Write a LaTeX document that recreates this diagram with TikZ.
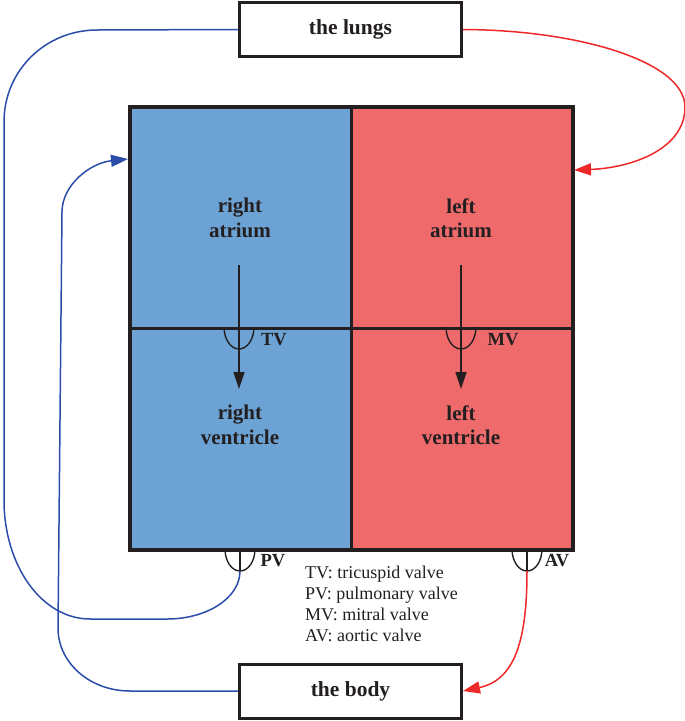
\documentclass[tikz,border=0pt]{standalone}
\usepackage{fontspec}
\setmainfont{Liberation Serif}
\usetikzlibrary{arrows.meta}
\definecolor{chblue}{RGB}{108,163,212}
\definecolor{chred}{RGB}{238,106,107}
\definecolor{lnblue}{RGB}{43,77,170}
\definecolor{lnred}{RGB}{238,40,40}
\definecolor{ink}{RGB}{35,31,32}
\tikzset{
  chamber/.style={draw=ink,line width=2.6pt,minimum width=221pt,minimum height=221pt,inner sep=0pt,anchor=north west},
  organ/.style={draw=ink,line width=3pt,fill=white,minimum width=222pt,minimum height=54pt,inner sep=0pt,font=\fontsize{21.5}{24}\selectfont\bfseries,text=ink},
  lbl/.style={font=\fontsize{21}{24.5}\selectfont\bfseries,text=ink,align=center},
  vlbl/.style={font=\fontsize{18.5}{20}\selectfont\bfseries,text=ink},
  legend/.style={font=\fontsize{18}{21}\selectfont,text=ink,anchor=base west,inner sep=0pt},
  valve/.style={draw=ink,line width=1.4pt},
  flowb/.style={draw=lnblue,line width=1.5pt,-{Triangle[length=17pt,width=12pt]}},
  flowr/.style={draw=lnred,line width=1.5pt,-{Triangle[length=17pt,width=12pt]}},
  inner/.style={draw=ink,line width=1.4pt,-{Triangle[length=17pt,width=11pt]}},
}
\begin{document}
\begin{tikzpicture}[x=1pt,y=-1pt]
\useasboundingbox (0,0) rectangle (685,721);
% chambers
\node[chamber,fill=chblue] (ra) at (129,106) {};
\node[chamber,fill=chred] (la) at (350,106) {};
\node[chamber,fill=chblue] (rv) at (129,327) {};
\node[chamber,fill=chred] (lv) at (350,327) {};
\draw[draw=ink,line width=3pt] (ra.north west) rectangle (lv.south east);
% labels
\node[lbl] (raT) at (240,218) {right\\atrium};
\node[lbl] (laT) at (461,218) {left\\atrium};
\node[lbl] (rvT) at (240,425) {right\\ventricle};
\node[lbl] (lvT) at (461,425) {left\\ventricle};
% valves
\coordinate (tv) at (239,327);
\coordinate (mv) at (461,327);
\coordinate (pv) at (240,549);
\coordinate (av) at (527,549);
\foreach \v in {tv,mv,pv,av}{
  \draw[valve] (\v) ++(-15pt,0pt) arc[start angle=180,end angle=360,x radius=15pt,y radius=22pt];
}
\coordinate (pvb) at (240,571);
\coordinate (avb) at (527,571);
\draw[valve] (pv) -- (pvb);
\draw[valve] (av) -- (avb);
\node[vlbl] (tvL) at (274,340) {TV};
\node[vlbl] (mvL) at (503,340) {MV};
\node[vlbl] (pvL) at (273,561) {PV};
\node[vlbl] (avL) at (557,561) {AV};
% inner arrows
\coordinate (ra1) at (239,265);
\coordinate (rv1) at (239,389);
\coordinate (la1) at (461,265);
\coordinate (lv1) at (461,389);
\draw[inner] (ra1) -- (rv1);
\draw[inner] (la1) -- (lv1);
% organs
\node[organ] (lungs) at (350.5,29.5) {the lungs};
\node[organ] (body) at (350.5,691) {the body};
% legend
\node[legend] (leg1) at (305,578) {TV: tricuspid valve};
\node[legend] (leg2) at (305,599) {PV: pulmonary valve};
\node[legend] (leg3) at (305,620) {MV: mitral valve};
\node[legend] (leg4) at (305,641) {AV: aortic valve};
% circulation
\coordinate (raIn) at (128,159);
\coordinate (laIn) at (574,170);
\draw[draw=lnblue,line width=1.5pt] (pvb) .. controls (240,598) and (207,619) .. (167,619)
  -- (90,619) .. controls (42,619) and (4,566) .. (4,500)
  -- (4,122) .. controls (4,70) and (46,30) .. (97,30) -- (lungs.west);
\draw[flowb] (body.west) -- (130,691) .. controls (90,691) and (58,663) .. (58,628)
  -- (62,212) .. controls (62,185) and (90,163) .. (raIn);
\draw[flowr] (lungs.east) .. controls (580,30) and (685,62) .. (685,107)
  .. controls (685,150) and (630,168) .. (laIn);
\draw[flowr] (avb) .. controls (527,640) and (515,680) .. (body.east);
\end{tikzpicture}
\end{document}
